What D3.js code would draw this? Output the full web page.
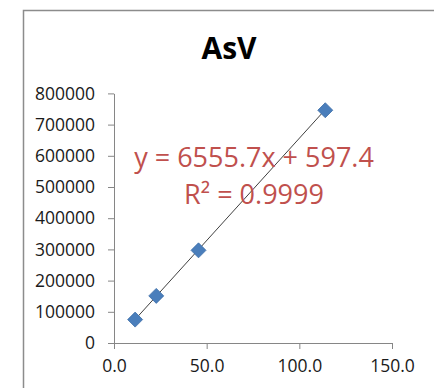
<!DOCTYPE html>
<html>
<head>
<meta charset="utf-8">
<script src="https://cdn.jsdelivr.net/npm/d3@7"></script>
<style>
  body { margin: 0; background: #fff; overflow: hidden; }
  svg { display: block; }
  text { font-family: "Open Sans", sans-serif; }
</style>
</head>
<body>
<div id="chart"></div>
<script>
let svgWidth = 434;
let svgHeight = 388;

// data
let concentrations = [11.4, 22.8, 45.6, 114.0];
let areas = [75000, 151000, 297000, 746000];
let xTicks = [0, 50, 100, 150];
let yTicks = [0, 100000, 200000, 300000, 400000, 500000, 600000, 700000, 800000];
let slope = 6555.7;
let intercept = 597.4;
let rSquared = 0.9999;

let margin = { top: 93.4, right: 42, bottom: 45, left: 114 };

let svg = d3.select("#chart")
  .append("svg")
  .attr("width", svgWidth)
  .attr("height", svgHeight);

// chart frame: only the left and top edges are in view
svg.append("path")
  .attr("d", `M23.5,${svgHeight}V10.5H${svgWidth}`)
  .attr("fill", "none")
  .attr("stroke", "#8c8c8c")
  .attr("stroke-width", 1.5);

let x = d3.scaleLinear()
  .domain([0, 150])
  .range([margin.left, svgWidth - margin.right]);

let y = d3.scaleLinear()
  .domain([0, 800000])
  .range([svgHeight - margin.bottom, margin.top]);

// title
svg.append("text")
  .attr("x", 229)
  .attr("y", 59)
  .attr("text-anchor", "middle")
  .attr("font-size", 30)
  .attr("font-weight", "bold")
  .attr("fill", "#000")
  .text("AsV");

// axes
let bottomAxis = d3.axisBottom(x)
  .tickValues(xTicks)
  .tickSize(6)
  .tickSizeOuter(0)
  .tickPadding(11)
  .tickFormat(d3.format(".1f"));

let leftAxis = d3.axisLeft(y)
  .tickValues(yTicks)
  .tickSize(6)
  .tickSizeOuter(0)
  .tickPadding(13)
  .tickFormat(d3.format("d"));

let gx = svg.append("g")
  .attr("transform", `translate(0, ${y(0)})`)
  .call(bottomAxis);

let gy = svg.append("g")
  .attr("transform", `translate(${x(0)}, 0)`)
  .call(leftAxis);

[gx, gy].forEach(g => {
  g.select(".domain").attr("stroke", "#868686");
  g.selectAll(".tick line").attr("stroke", "#868686");
  g.selectAll(".tick text")
    .attr("font-size", 17.5)
    .attr("font-family", "Open Sans, sans-serif")
    .attr("fill", "#1a1a1a");
});

// linear trendline over the data range
let xMin = d3.min(concentrations);
let xMax = d3.max(concentrations);
svg.append("line")
  .attr("x1", x(xMin))
  .attr("y1", y(slope * xMin + intercept))
  .attr("x2", x(xMax))
  .attr("y2", y(slope * xMax + intercept))
  .attr("stroke", "#404040")
  .attr("stroke-width", 1);

// diamond markers
let pts = concentrations.map((c, i) => ({ c: c, a: areas[i] }));
let r = 7.5;
svg.selectAll("path.pt")
  .data(pts)
  .enter()
  .append("path")
  .attr("class", "pt")
  .attr("d", d => {
    let cx = x(d.c), cy = y(d.a);
    return `M${cx},${cy - r}L${cx + r},${cy}L${cx},${cy + r}L${cx - r},${cy}Z`;
  })
  .attr("fill", "#4a7ebb")
  .attr("stroke", "#3d6fa8")
  .attr("stroke-width", 0.8);

// equation label
let eq = svg.append("text")
  .attr("x", 254)
  .attr("y", 167)
  .attr("text-anchor", "middle")
  .attr("font-size", 27)
  .attr("fill", "#c0504d");

eq.append("tspan")
  .attr("x", 254)
  .text(`y = ${slope}x + ${intercept}`);

eq.append("tspan")
  .attr("x", 254)
  .attr("dy", 37)
  .text(`R² = ${rSquared}`);
</script>
</body>
</html>
